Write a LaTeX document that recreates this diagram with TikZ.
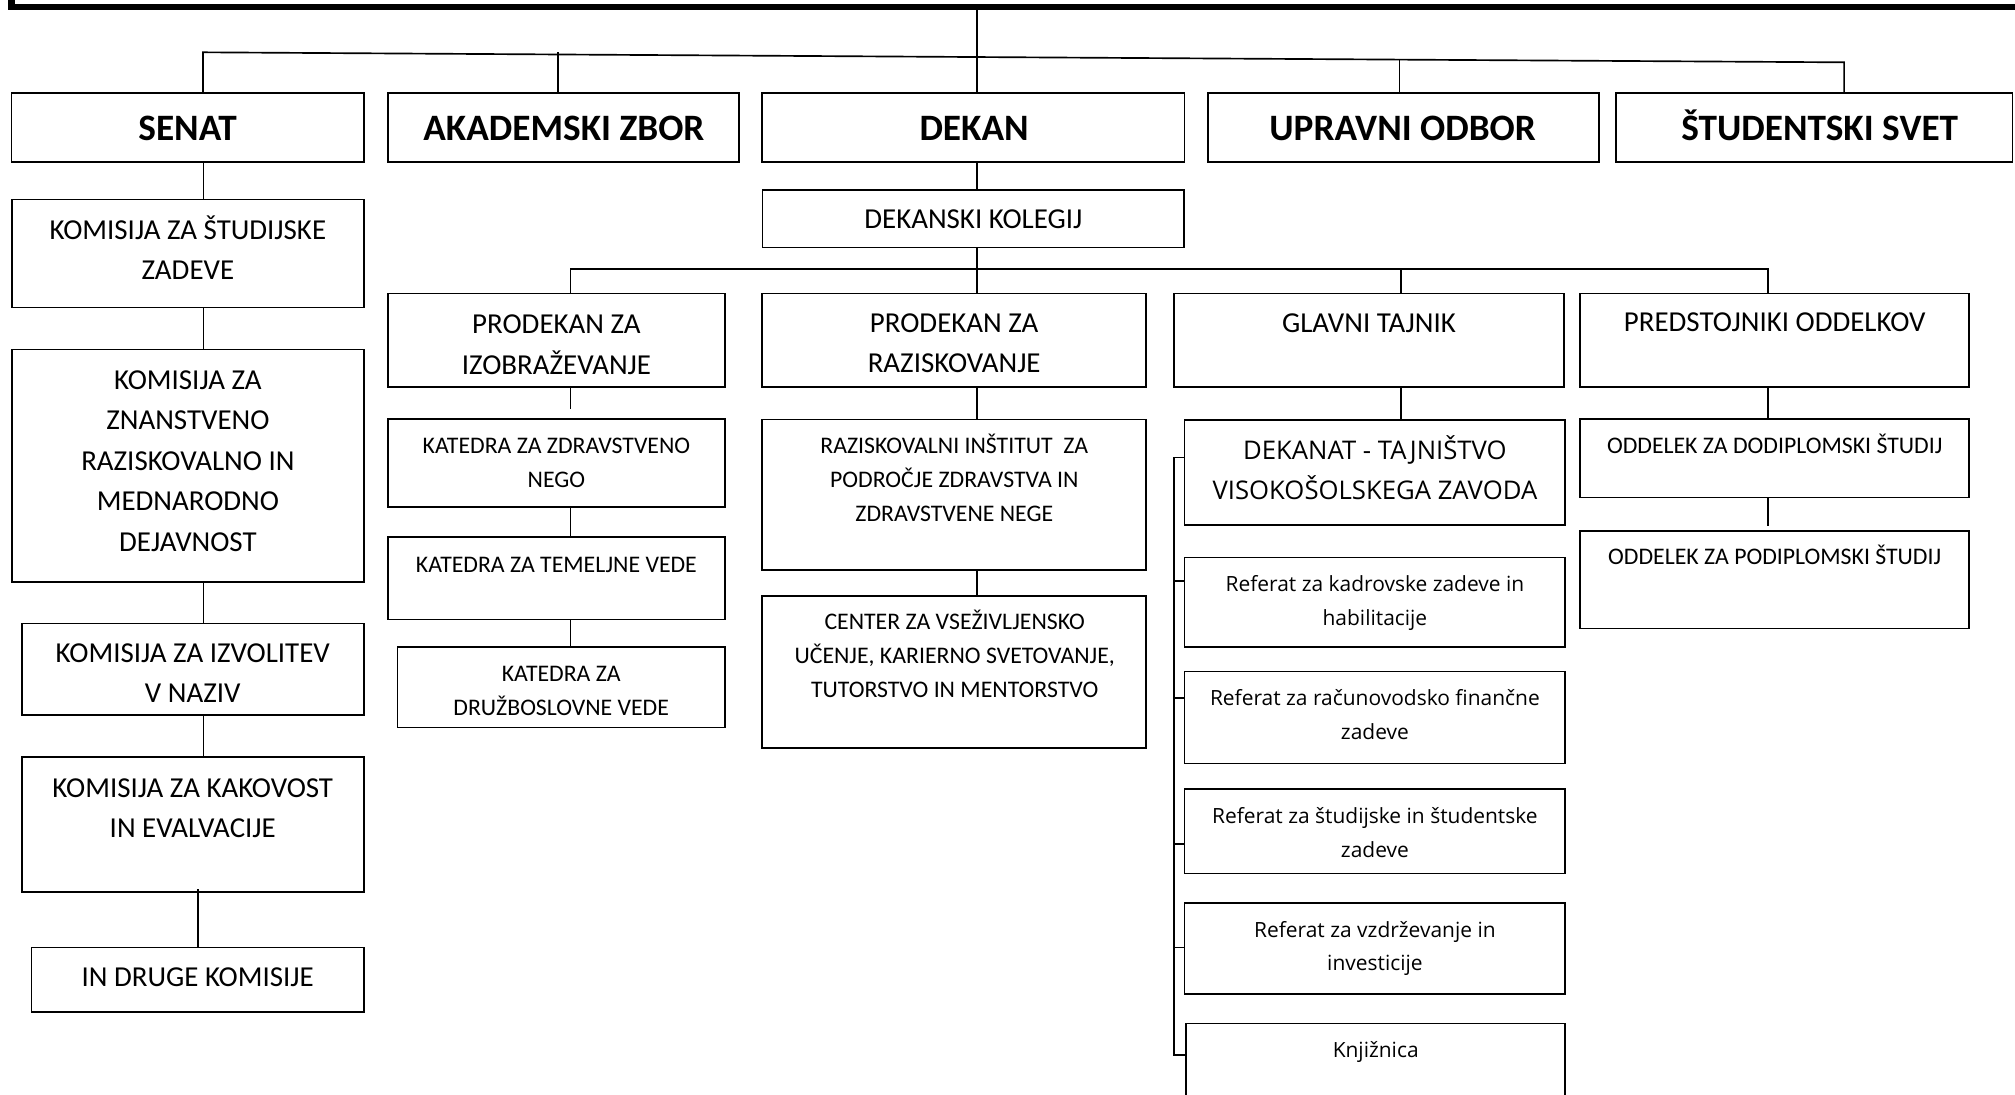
\documentclass[tikz,border=0pt]{standalone}
\usepackage{fontspec}
\setmainfont{Carlito}
\newfontfamily\osans{Open Sans}
\usetikzlibrary{fit}
\tikzset{
  box/.style={draw, line width=1.3pt, inner sep=0pt, rectangle},
  conn/.style={line width=1.3pt},
  txt/.style={anchor=base, align=center, inner sep=0pt},
  tb/.style={txt, font=\fontsize{29}{35}\selectfont\bfseries},
  tm/.style={txt, font=\fontsize{22.5}{31.5}\selectfont},
  ts/.style={txt, font=\fontsize{18.5}{26.3}\selectfont},
  to/.style={txt, font=\osans\fontsize{20}{31}\selectfont},
  tr/.style={txt, font=\osans\fontsize{16.3}{26.2}\selectfont},
}
\newcommand\mkbox[5]{\node[box, fit={(#2,#3) (#4,#5)}] (#1) {};}
\begin{document}
\begin{tikzpicture}[x=1pt,y=-1pt]
\useasboundingbox (0,0) rectangle (1568,852);
% top frame (partly outside the picture)
\node[draw, line width=5pt, inner sep=0pt, fit={(9,-60) (1640,5.4)}] (top) {};
% top row
\mkbox{senat}{9}{72.6}{283}{125.8}
\mkbox{akad}{302}{72.6}{575}{125.8}
\mkbox{dekan}{593}{72.6}{921.6}{125.8}
\mkbox{upravni}{940}{72.6}{1244.5}{125.8}
\mkbox{student}{1257.5}{72.6}{1566}{125.8}
\node[tb] (tsenat) at (146,109) {SENAT};
\node[tb] (takad) at (438.8,109) {AKADEMSKI ZBOR};
\node[tb] (tdekan) at (758,109) {DEKAN};
\node[tb] (tupravni) at (1091.5,109) {UPRAVNI ODBOR};
\node[tb] (tstudent) at (1416,109) {ŠTUDENTSKI SVET};
% senat column (base anchor = last line baseline)
\mkbox{k1}{9.4}{155.3}{283}{239.3}
\mkbox{k2}{9.4}{272}{283}{452.7}
\mkbox{k3}{17}{485.3}{283}{556.6}
\mkbox{k4}{17}{589.3}{283}{694}
\mkbox{k5}{24.5}{737.3}{283}{787.7}
\node[tm] (tk1) at (146.2,217.5) {KOMISIJA ZA ŠTUDIJSKE\\ZADEVE};
\node[tm] (tk2) at (146.2,429) {KOMISIJA ZA\\ZNANSTVENO\\RAZISKOVALNO IN\\MEDNARODNO\\DEJAVNOST};
\node[tm] (tk3) at (150,547) {KOMISIJA ZA IZVOLITEV\\V NAZIV};
\node[tm] (tk4) at (150,651.9) {KOMISIJA ZA KAKOVOST\\IN EVALVACIJE};
\node[tm] (tk5) at (153.8,767.8) {IN DRUGE KOMISIJE};
% dekan side
\mkbox{kolegij}{593.3}{147.9}{921.5}{192.5}
\node[tm] (tkolegij) at (757.4,177.5) {DEKANSKI KOLEGIJ};
\mkbox{pi}{302}{228.5}{564}{301.2}
\mkbox{kz}{302}{326.3}{564}{394.4}
\mkbox{kt}{302}{418}{564}{482}
\mkbox{kd}{309.3}{503.3}{564}{566}
\node[tm] (tpi) at (433,291.1) {PRODEKAN ZA\\IZOBRAŽEVANJE};
\node[ts] (tkz) at (433,379) {KATEDRA ZA ZDRAVSTVENO\\NEGO};
\node[ts] (tkt) at (433,445.8) {KATEDRA ZA TEMELJNE VEDE};
\node[ts] (tkd) at (436.7,556.9) {KATEDRA ZA\\DRUŽBOSLOVNE VEDE};
\mkbox{pr}{593}{228.5}{892}{301}
\mkbox{ri}{593}{326.4}{892}{443.3}
\mkbox{cv}{593}{464}{892}{582}
\node[tm] (tpr) at (742.5,290.2) {PRODEKAN ZA\\RAZISKOVANJE};
\node[ts] (tri) at (742.6,405.7) {RAZISKOVALNI INŠTITUT\ \ ZA\\PODROČJE ZDRAVSTVA IN\\ZDRAVSTVENE NEGE};
\node[ts] (tcv) at (742.9,542.5) {CENTER ZA VSEŽIVLJENSKO\\UČENJE, KARIERNO SVETOVANJE,\\TUTORSTVO IN MENTORSTVO};
\mkbox{gt}{913.6}{228.3}{1217}{301.4}
\mkbox{dek}{921.7}{326.8}{1218}{408.6}
\mkbox{r1}{921.7}{433.8}{1218}{503.7}
\mkbox{r2}{921.7}{522.4}{1218}{594.2}
\mkbox{r3}{921.7}{614.2}{1218}{679.7}
\mkbox{r4}{921.7}{702.8}{1218}{773.5}
\mkbox{knj}{923}{796.4}{1218}{880}
\node[tm] (tgt) at (1065.3,258.5) {GLAVNI TAJNIK};
\node[to] (tdek) at (1069.9,388.9) {DEKANAT - TAJNIŠTVO\\VISOKOŠOLSKEGA ZAVODA};
\node[tr] (tr1) at (1069.9,486.5) {Referat za kadrovske zadeve in\\habilitacije};
\node[tr] (tr2) at (1069.9,575.5) {Referat za računovodsko finančne\\zadeve};
\node[tr] (tr3) at (1069.9,666.9) {Referat za študijske in študentske\\zadeve};
\node[tr] (tr4) at (1069.9,755.5) {Referat za vzdrževanje in\\investicije};
\node[tr] (tknj) at (1070.5,823) {Knjižnica};
\mkbox{po}{1229.6}{228.3}{1532}{301.4}
\mkbox{od}{1229.6}{326.3}{1532}{387}
\mkbox{pp}{1229.6}{413}{1532}{489}
\node[tm] (tpo) at (1381,258.1) {PREDSTOJNIKI ODDELKOV};
\node[ts] (tod) at (1381,352.8) {ODDELEK ZA DODIPLOMSKI ŠTUDIJ};
\node[ts] (tpp) at (1381,439.2) {ODDELEK ZA PODIPLOMSKI ŠTUDIJ};
% connector coordinates
\coordinate (hl) at (158,40.7);
\coordinate (hr) at (1435,48.5);
\coordinate (cA) at (434,40.7);
\coordinate (cU) at (1089,46.4);
\coordinate (cD) at (760.5,0);
\coordinate (cS) at (158.4,0);
\coordinate (cS2) at (153.9,0);
\coordinate (hb) at (444,209.2);
\coordinate (he) at (1376,209.2);
\coordinate (cG) at (1090,0);
\coordinate (bt) at (913.6,356);
\coordinate (bb) at (913.6,821);
% top connectors
\draw[conn] (cD |- top.south) -- (cD |- dekan.north);
\draw[conn] (hl |- senat.north) -- (hl) -- (hr) -- (hr |- student.north);
\draw[conn] (cA) -- (cA |- akad.north);
\draw[conn] (cU) -- (cU |- upravni.north);
% senat column
\draw[conn] (cS |- senat.south) -- (cS |- k1.north);
\draw[conn] (cS |- k1.south) -- (cS |- k2.north);
\draw[conn] (cS |- k2.south) -- (cS |- k3.north);
\draw[conn] (cS |- k3.south) -- (cS |- k4.north);
\draw[conn] ([yshift=2.7pt]cS2 |- k4.south) -- (cS2 |- k5.north);
% dekan
\draw[conn] (cD |- dekan.south) -- (cD |- kolegij.north);
\draw[conn] (cD |- kolegij.south) -- (cD |- pr.north);
\draw[conn] (hb |- pi.north) -- (hb) -- (he) -- (he |- po.north);
\draw[conn] (cG |- hb) -- (cG |- gt.north);
\draw[conn] (hb |- pi.south) -- ++(0,16.8);
\draw[conn] (hb |- kz.south) -- (hb |- kt.north);
\draw[conn] (hb |- kt.south) -- (hb |- kd.north);
\draw[conn] (cD |- pr.south) -- (cD |- ri.north);
\draw[conn] (cD |- ri.south) -- (cD |- cv.north);
\draw[conn] (cG |- gt.south) -- (cG |- dek.north);
\draw[conn] (he |- po.south) -- (he |- od.north);
\draw[conn] (he |- od.south) -- ++(0,22);
% bracket for dekanat
\draw[conn] ([yshift=11.7pt]dek.west) -- (bt) -- (bb) -- (knj.west |- bb);
\draw[conn] ([yshift=16.8pt]r1.west) -- ++(-8.1,0);
\draw[conn] ([yshift=15.3pt]r2.west) -- ++(-8.1,0);
\draw[conn] ([yshift=-10pt]r3.west) -- ++(-8.1,0);
\draw[conn] ([yshift=0.9pt]r4.west) -- ++(-8.1,0);
\end{tikzpicture}
\end{document}
